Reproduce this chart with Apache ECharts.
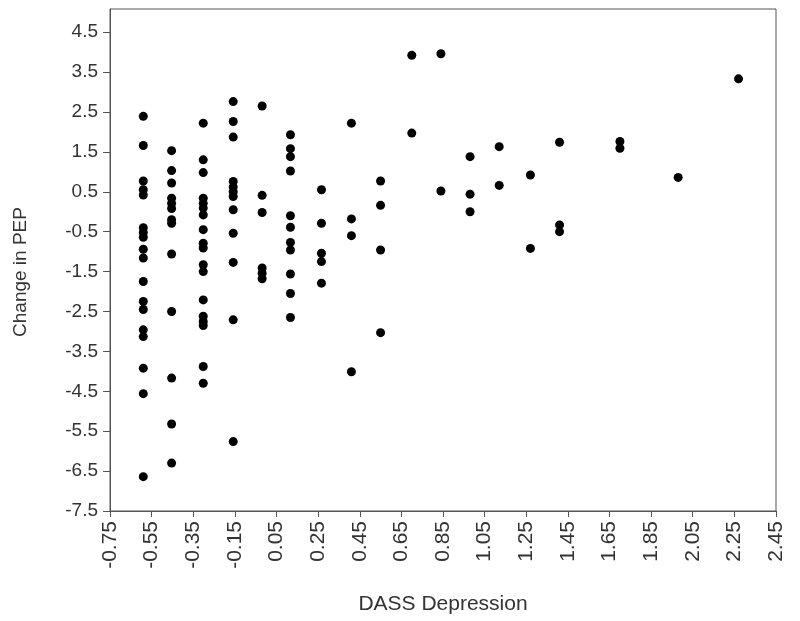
<!DOCTYPE html>
<html>
<head>
<meta charset="utf-8">
<script src="https://cdn.jsdelivr.net/npm/echarts@6/dist/echarts.min.js"></script>
<style>
html,body{margin:0;padding:0;background:#fff;}
#chart{width:800px;height:621px;}
</style>
</head>
<body>
<div id="chart"></div>
<script>
// DASS Depression levels (x) and the Change in PEP values (y) observed at each level
const dassLevels = [-0.59, -0.454, -0.302, -0.158, -0.019, 0.117, 0.266, 0.41, 0.55, 0.70, 0.84, 0.98, 1.12, 1.27, 1.41, 1.70, 1.98, 2.27];
const pepA = [2.39, 1.66, 0.77, 0.55, 0.42, -0.40, -0.52, -0.64, -0.94, -1.16, -1.75, -2.25, -2.45, -2.96, -3.13, -3.92, -4.56, -6.64];
const pepB = [1.53, 1.03, 0.72, 0.34, 0.21, 0.08, -0.20, -0.29, -1.06, -2.50, -4.17, -5.32, -6.30];
const pepC = [2.22, 1.30, 0.98, 0.34, 0.21, 0.09, -0.08, -0.45, -0.79, -0.91, -1.33, -1.50, -2.21, -2.62, -2.75, -2.85, -3.88, -4.30];
const pepD = [2.76, 2.26, 1.87, 0.76, 0.62, 0.50, 0.38, 0.05, -0.54, -1.27, -2.71, -5.76];
const pepE = [2.65, 0.41, -0.02, -1.41, -1.54, -1.68];
const pepF = [1.93, 1.58, 1.38, 1.02, -0.10, -0.39, -0.77, -0.96, -1.56, -2.05, -2.65];
const pepG = [0.55, -0.29, -1.04, -1.25, -1.79];
const pepH = [2.22, -0.18, -0.60, -4.01];
const pepI = [0.77, 0.16, -0.96, -3.03];
const pepJ = [3.92, 1.97];
const pepK = [3.96, 0.52];
const pepL = [1.38, 0.44, 0.00];
const pepM = [1.63, 0.66];
const pepN = [0.92, -0.92];
const pepO = [1.74, -0.33, -0.50];
const pepP = [1.76, 1.59];
const pepQ = [0.86];
const pepR = [3.33];
const pepByLevel = [pepA, pepB, pepC, pepD, pepE, pepF, pepG, pepH, pepI, pepJ, pepK, pepL, pepM, pepN, pepO, pepP, pepQ, pepR];

const xTickLabels = ['-0.75','-0.55','-0.35','-0.15','0.05','0.25','0.45','0.65','0.85','1.05','1.25','1.45','1.65','1.85','2.05','2.25','2.45'];
const yTickLabels = ['-7.5','-6.5','-5.5','-4.5','-3.5','-2.5','-1.5','-0.5','0.5','1.5','2.5','3.5','4.5'];

const points = [];
dassLevels.forEach((x, i) => pepByLevel[i].forEach(y => points.push([x, y])));

const chart = echarts.init(document.getElementById('chart'));
const font = '"Liberation Sans", Arial, sans-serif';
chart.setOption({
  animation: false,
  backgroundColor: '#fff',
  grid: {left: 110, right: 24, top: 9, bottom: 110, show: true, borderColor: '#555', borderWidth: 1},
  xAxis: {
    type: 'value', min: -0.75, max: 2.45, interval: 0.2,
    name: 'DASS Depression', nameLocation: 'middle', nameGap: 83,
    nameTextStyle: {fontFamily: font, fontSize: 21, color: '#333'},
    axisLine: {onZero: false, lineStyle: {color: '#555'}},
    axisTick: {show: true, length: 6, lineStyle: {color: '#555'}},
    splitLine: {show: false},
    axisLabel: {rotate: 90, margin: 10, fontFamily: font, fontSize: 21, color: '#333',
      formatter: v => { const i = Math.round((v + 0.75) / 0.2); return xTickLabels[i] || ''; }}
  },
  yAxis: {
    type: 'value', min: -7.5, max: 5.08, interval: 1,
    name: 'Change in PEP', nameLocation: 'middle', nameGap: 80,
    nameTextStyle: {fontFamily: font, fontSize: 19, color: '#333', padding: [0, 24, 0, 0]},
    axisLine: {onZero: false, lineStyle: {color: '#555'}},
    axisTick: {show: true, length: 7, lineStyle: {color: '#555'}},
    splitLine: {show: false},
    axisLabel: {margin: 12, fontFamily: font, fontSize: 19, color: '#333', showMaxLabel: false,
      formatter: v => { const i = Math.round(v + 7.5); return (Math.abs(v + 7.5 - i) < 1e-6) ? (yTickLabels[i] || '') : ''; }}
  },
  series: [{
    type: 'scatter', data: points, symbol: 'circle', symbolSize: 9,
    itemStyle: {color: '#000', opacity: 1}
  }]
});
</script>
</body>
</html>
